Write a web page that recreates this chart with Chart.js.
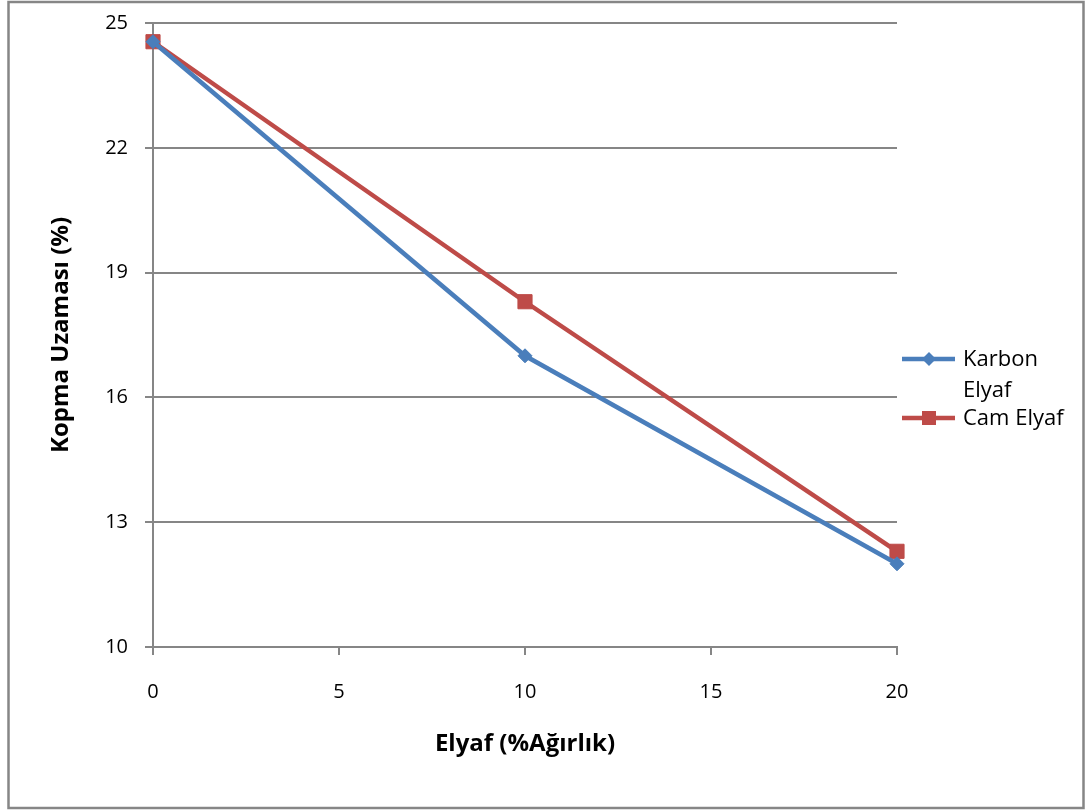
<!DOCTYPE html>
<html>
<head>
<meta charset="utf-8">
<script src="https://cdn.jsdelivr.net/npm/chart.js@4.4.1/dist/chart.umd.min.js"></script>
<style>
  html, body { margin: 0; padding: 0; background: #fff; }
  #wrap { width: 1086px; height: 811px; position: relative; }
</style>
</head>
<body>
<div id="wrap"><canvas id="chart" width="1086" height="811"></canvas></div>
<script>
    // values
    const elyafYuzde = [0, 10, 20];
    const karbonElyaf = [24.55, 17.0, 12.0];
    const camElyaf = [24.55, 18.3, 12.3];
    const yTicks = [10, 13, 16, 19, 22, 25];
    const xTicks = [0, 5, 10, 15, 20];

    const seriesNames = ['Karbon Elyaf', 'Cam Elyaf'];
    const blue = '#4A7EBB';
    const red = '#BE4B48';
    const gridGray = '#868686';
    const fontFam = '"Open Sans", Lato, sans-serif';

    function toPoints(ys) {
        return elyafYuzde.map((x, i) => ({ x: x, y: ys[i] }));
    }

    // frame around the whole chart, like the office chart border
    const framePlugin = {
        id: 'frame',
        beforeDraw(chart) {
            const ctx = chart.ctx;
            ctx.save();
            ctx.fillStyle = '#fff';
            ctx.fillRect(0, 0, chart.width, chart.height);
            ctx.strokeStyle = gridGray;
            ctx.lineWidth = 2.5;
            ctx.strokeRect(8.5, 2, 1075, 806);
            ctx.restore();
        }
    };

    // legend on the right, "Karbon Elyaf" wraps to two lines
    const legendPlugin = {
        id: 'sideLegend',
        afterDraw(chart) {
            const ctx = chart.ctx;
            const items = [
                { lines: ['Karbon', 'Elyaf'], color: blue, style: 'diamond', y: 359 },
                { lines: ['Cam Elyaf'], color: red, style: 'square', y: 418 }
            ];
            ctx.save();
            items.forEach(it => {
                ctx.strokeStyle = it.color;
                ctx.lineWidth = 4.5;
                ctx.beginPath();
                ctx.moveTo(902, it.y);
                ctx.lineTo(955, it.y);
                ctx.stroke();
                ctx.fillStyle = it.color;
                ctx.beginPath();
                if (it.style === 'diamond') {
                    ctx.moveTo(929, it.y - 7);
                    ctx.lineTo(936, it.y);
                    ctx.lineTo(929, it.y + 7);
                    ctx.lineTo(922, it.y);
                    ctx.closePath();
                } else {
                    ctx.rect(922, it.y - 7, 14, 14);
                }
                ctx.fill();
                ctx.fillStyle = '#000';
                ctx.font = '22px ' + fontFam;
                ctx.textBaseline = 'middle';
                ctx.textAlign = 'left';
                it.lines.forEach((t, k) => ctx.fillText(t, 963, it.y + 1 + k * 31));
            });
            ctx.restore();
        }
    };

    window.onload = function () {
        new Chart(document.getElementById('chart'), {
            type: 'line',
            data: {
                datasets: [{
                    label: seriesNames[0],
                    data: toPoints(karbonElyaf),
                    borderColor: blue,
                    backgroundColor: blue,
                    borderWidth: 4.5,
                    pointStyle: 'rectRot',
                    pointRadius: 7,
                    pointBorderWidth: 1,
                    clip: false,
                    tension: 0
                }, {
                    label: seriesNames[1],
                    data: toPoints(camElyaf),
                    borderColor: red,
                    backgroundColor: red,
                    borderWidth: 4.5,
                    pointStyle: 'rect',
                    pointRadius: 10,
                    pointBorderWidth: 1,
                    clip: false,
                    tension: 0
                }]
            },
            options: {
                responsive: false,
                animation: false,
                layout: { padding: { top: 23, right: 189, left: 0, bottom: 0 } },
                plugins: {
                    legend: { display: false },
                    tooltip: { enabled: false }
                },
                scales: {
                    x: {
                        type: 'linear',
                        min: 0,
                        max: 20,
                        afterBuildTicks: s => { s.ticks = xTicks.map(v => ({ value: v })); },
                        afterFit: s => { s.height = 164; },
                        grid: { drawOnChartArea: false, drawTicks: true, tickLength: 8, color: gridGray, lineWidth: 2 },
                        border: { color: gridGray, width: 2 },
                        ticks: { color: '#000', padding: 25, maxRotation: 0, font: { family: fontFam, size: 20 } },
                        title: {
                            display: true,
                            text: 'Elyaf (%Ağırlık)',
                            color: '#000',
                            padding: { top: 0, bottom: 52 },
                            font: { family: fontFam, size: 24, weight: 'bold' }
                        }
                    },
                    y: {
                        min: 10,
                        max: 25,
                        afterBuildTicks: s => { s.ticks = yTicks.map(v => ({ value: v })); },
                        afterFit: s => { s.width = 153; s.paddingTop = 0; s.paddingBottom = 0; },
                        grid: { color: gridGray, lineWidth: 2, tickLength: 8 },
                        border: { color: gridGray, width: 2 },
                        ticks: { color: '#000', padding: 17, font: { family: fontFam, size: 20 } },
                        title: {
                            display: true,
                            text: 'Kopma Uzaması (%)',
                            color: '#000',
                            padding: { top: 47, bottom: 0 },
                            font: { family: fontFam, size: 24, weight: 'bold' }
                        }
                    }
                }
            },
            plugins: [framePlugin, legendPlugin]
        });
    };
</script>
</body>
</html>
